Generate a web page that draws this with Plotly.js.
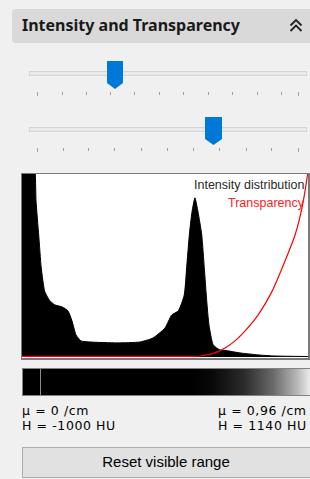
<!DOCTYPE html>
<html>
<head>
<meta charset="utf-8">
<script src="https://cdn.plot.ly/plotly-3.0.1.min.js"></script>
<style>
  html, body { margin:0; padding:0; }
  body { width:310px; height:479px; background:#f0f0f0; position:relative; overflow:hidden; font-family:"Liberation Sans", Arial, sans-serif; }
  .abs { position:absolute; }
  #header { left:12px; top:9px; width:320px; height:34px; background:#d9d9d9; border-radius:4px; }
  #title { left:22px; top:14px; font-family:"Noto Sans", sans-serif; font-weight:bold; font-size:16px; color:#1a1a1a; white-space:nowrap; }
  .track { left:29px; width:276px; height:3px; background:#e7eaea; border:1px solid #d4d4d4; }
  .tick { width:1px; background:#a0a0a0; }
  #chart { left:20px; top:172px; width:290px; height:188px; }
  #grad { left:22px; top:368px; width:300px; height:28px; box-sizing:border-box; border:1px solid #828282;
          background:linear-gradient(to right, #000 0%, #000 57%, #0a0a0a 64%, #2a2a2a 74%, #6a6a6a 84%, #b8b8b8 92%, #f4f4f4 97%, #fff 100%); }
  #gline { left:17px; top:0px; width:1px; height:26px; background:#8a8a8a; }
  .info { font-family:"DejaVu Sans", sans-serif; font-size:12.5px; letter-spacing:0.6px; color:#000; white-space:nowrap; line-height:14.6px; }
  #btn { left:22px; top:447px; width:300px; height:31px; box-sizing:border-box; background:#e1e1e1; border:1px solid #adadad; }
  #btntext { left:22px; top:453px; width:288px; text-align:center; font-size:15px; color:#000; }
</style>
</head>
<body>
<div id="header" class="abs"></div>
<div id="title" class="abs">Intensity and Transparency</div>
<svg class="abs" style="left:0;top:0" width="310" height="479" id="ui">
  <polyline points="290.5,25.5 296,20 301.5,25.5" fill="none" stroke="#222" stroke-width="1.8"/>
  <polyline points="290.5,31 296,25.5 301.5,31" fill="none" stroke="#222" stroke-width="1.8"/>
</svg>
<div class="abs track" style="top:71px"></div>
<div class="abs track" style="top:127px"></div>
<div id="ticks"></div>
<svg class="abs" style="left:0;top:0" width="310" height="479">
  <polygon points="107,61 123,61 123,83 115,89 107,83" fill="#0078d7"/>
  <polygon points="205,117 222,117 222,139 213.5,145 205,139" fill="#0078d7"/>
</svg>
<div id="chart" class="abs"></div>
<div id="grad" class="abs"><div id="gline" class="abs"></div></div>
<div class="abs info" style="left:22px;top:404px">μ = 0 /cm<br>H = -1000 HU</div>
<div class="abs info" style="left:218px;top:404px">μ = 0,96 /cm<br>H = 1140 HU</div>
<div id="btn" class="abs"></div>
<div id="btntext" class="abs">Reset visible range</div>
<script>
// slider tick positions (px)
const ticks1 = [37,62,86,110,134,159,183,208,232,257,281,298];
const ticks2 = [37,63,88,114,141,167,193,219,246,271,298];

// histogram (HU vs relative count, % of plot height)
const histHU  = [-1000,-905,-895,-875,-856,-830,-793,-755,-701,-656,-626,-596,-559,-491,-289,-117,-20,70,120,170,214,232,252,272,294,317,345,364,382,399,431,482,519,631,766,893,1140];
const histVal = [130,105,85.7,67,49,36,31,28.6,27.5,25.3,19.8,12.1,8.8,8.2,7.7,8.2,10.4,15.9,23,25.3,34,49,67,79.7,87.4,79.7,67,49,31,17.6,6.6,3.8,3.6,2.2,1.1,0.5,0.2];

// transparency curve
const transHU  = [-1000,-42,235,332,444,519,594,669,766,871,968,1043,1095,1133,1150];
const transVal = [0.3,0.3,0.3,0.5,2.2,4.9,8.8,14.3,23,36,52.7,67,81.9,98.4,108];

const labels = ["Intensity distribution", "Transparency"];

const tk = document.getElementById('ticks');
function addTicks(arr, top) {
  arr.forEach((x, i) => {
    const d = document.createElement('div');
    d.className = 'abs tick';
    const end = (i === 0 || i === arr.length - 1);
    d.style.left = x + 'px';
    d.style.top = top + 'px';
    d.style.height = (end ? 4 : 3) + 'px';
    tk.appendChild(d);
  });
}
addTicks(ticks1, 92);
addTicks(ticks2, 148);

const traces = [
  { x: histHU, y: histVal, type: 'scatter', mode: 'lines', fill: 'tozeroy',
    fillcolor: '#000', line: { color: '#000', width: 1, shape: 'spline', smoothing: 0.5 }, hoverinfo: 'skip' },
  { x: transHU, y: transVal, type: 'scatter', mode: 'lines',
    line: { color: '#ff0000', width: 1.2, shape: 'spline', smoothing: 0.6 }, hoverinfo: 'skip' }
];
const layout = {
  width: 290, height: 188,
  margin: { l: 2, r: 2, t: 2, b: 2 },
  paper_bgcolor: 'rgba(0,0,0,0)', plot_bgcolor: '#fff',
  showlegend: false,
  xaxis: { range: [-1000, 1140], showgrid: false, zeroline: false, showticklabels: false, ticks: '',
           showline: true, mirror: true, linecolor: '#7a7a7a', linewidth: 1.5, fixedrange: true },
  yaxis: { range: [-0.6, 100.5], showgrid: false, zeroline: false, showticklabels: false, ticks: '',
           showline: true, mirror: true, linecolor: '#7a7a7a', linewidth: 1.5, fixedrange: true },
  annotations: [
    { text: labels[0], xref: 'paper', yref: 'paper', x: 1, y: 0.94, xanchor: 'right', yanchor: 'middle', xshift: -1,
      showarrow: false, font: { family: 'Liberation Sans, Arial, sans-serif', size: 12.5, color: '#2a2a2a' } },
    { text: labels[1], xref: 'paper', yref: 'paper', x: 1, y: 0.842, xanchor: 'right', yanchor: 'middle', xshift: -1,
      showarrow: false, font: { family: 'Liberation Sans, Arial, sans-serif', size: 12.5, color: '#ff2020' } }
  ]
};
Plotly.newPlot('chart', traces, layout, { staticPlot: true, displayModeBar: false });
</script>
</body>
</html>
